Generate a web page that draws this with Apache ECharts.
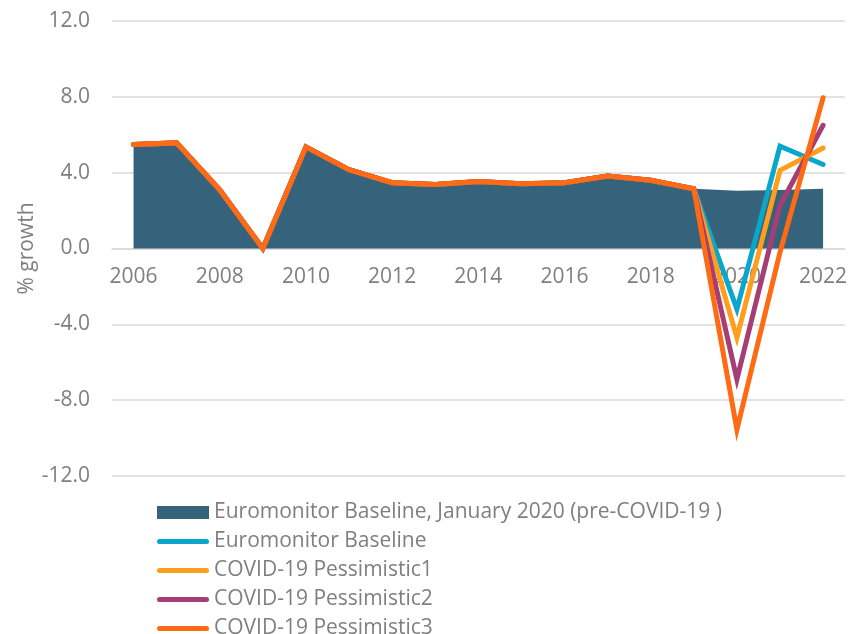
<!DOCTYPE html>
<html>
<head>
<meta charset="utf-8">
<script src="https://cdn.jsdelivr.net/npm/echarts@6/dist/echarts.min.js"></script>
<style>
    html, body {margin: 0; padding: 0; background: #fff;}
    #chart {width: 850px; height: 634px;}
</style>
</head>
<body>
<div id="chart"></div>
<script>
    const years = ['2006', '2007', '2008', '2009', '2010', '2011', '2012', '2013', '2014',
        '2015', '2016', '2017', '2018', '2019', '2020', '2021', '2022']

    // shared history 2006-2019
    const history = [5.48, 5.57, 3.1, 0.0, 5.36, 4.16, 3.47, 3.37, 3.54, 3.42, 3.47, 3.82, 3.6, 3.15]

    const preCovid = history.concat([3.05, 3.08, 3.15])
    const baseline = history.concat([-3.2, 5.4, 4.43])
    const pessimistic1 = history.concat([-4.7, 4.12, 5.3])
    const pessimistic2 = history.concat([-6.9, 2.27, 6.5])
    const pessimistic3 = history.concat([-9.55, -0.2, 7.95])

    const names = [
        'Euromonitor Baseline, January 2020 (pre-COVID-19 )',
        'Euromonitor Baseline',
        'COVID-19 Pessimistic1',
        'COVID-19 Pessimistic2',
        'COVID-19 Pessimistic3'
    ]
    const colors = ['#35637b', '#0aa6cc', '#ff9d1c', '#a53e74', '#ff6b14']

    const font = '"Open Sans", sans-serif'
    const textColor = '#7f7f7f'
    // rounded bar used as legend icon for the lines
    const lineIcon = 'path://M2.5,0 L49.5,0 A2.5,2.5 0 0 1 49.5,5 L2.5,5 A2.5,2.5 0 0 1 2.5,0 Z'

    function lineSeries(i, data) {
        return {
            name: names[i],
            type: 'line',
            data: data,
            symbol: 'none',
            color: colors[i],
            lineStyle: {width: 5, color: colors[i], cap: 'round', join: 'miter'},
            z: 2 + i
        }
    }

    const chart = echarts.init(document.getElementById('chart'))
    chart.setOption({
        animation: false,
        grid: {left: 112, right: 2, top: 21, bottom: 158},
        legend: {
            orient: 'vertical',
            left: 157,
            top: 502,
            height: 140,
            padding: 0,
            itemWidth: 52,
            itemHeight: 13,
            itemGap: 8,
            symbolKeepAspect: true,
            textStyle: {fontFamily: font, fontSize: 21, lineHeight: 20, color: textColor},
            data: [
                {name: names[0], icon: 'rect'},
                {name: names[1], icon: lineIcon},
                {name: names[2], icon: lineIcon},
                {name: names[3], icon: lineIcon},
                {name: names[4], icon: lineIcon}
            ]
        },
        xAxis: {
            type: 'category',
            data: years,
            boundaryGap: true,
            offset: -227.5,
            axisLine: {onZero: false, lineStyle: {color: '#d9d9d9', width: 1.5}},
            axisTick: {show: false},
            axisLabel: {interval: 1, fontFamily: font, fontSize: 21, color: textColor, margin: 18}
        },
        yAxis: {
            type: 'value',
            min: -12,
            max: 12,
            interval: 4,
            name: '% growth',
            nameLocation: 'middle',
            nameGap: 74,
            nameMoveOverlap: false,
            nameTextStyle: {fontFamily: font, fontSize: 21, color: textColor},
            axisLine: {show: false},
            axisTick: {show: false},
            splitLine: {lineStyle: {color: '#d9d9d9', width: 1.5}},
            axisLabel: {
                fontFamily: font, fontSize: 21, color: textColor, margin: 22,
                formatter: v => v.toFixed(1)
            }
        },
        series: [
            {
                name: names[0],
                type: 'line',
                data: preCovid,
                symbol: 'none',
                color: colors[0],
                lineStyle: {width: 0},
                areaStyle: {color: colors[0], opacity: 1},
                z: 1
            },
            lineSeries(1, baseline),
            lineSeries(2, pessimistic1),
            lineSeries(3, pessimistic2),
            lineSeries(4, pessimistic3)
        ]
    })
</script>
</body>
</html>
